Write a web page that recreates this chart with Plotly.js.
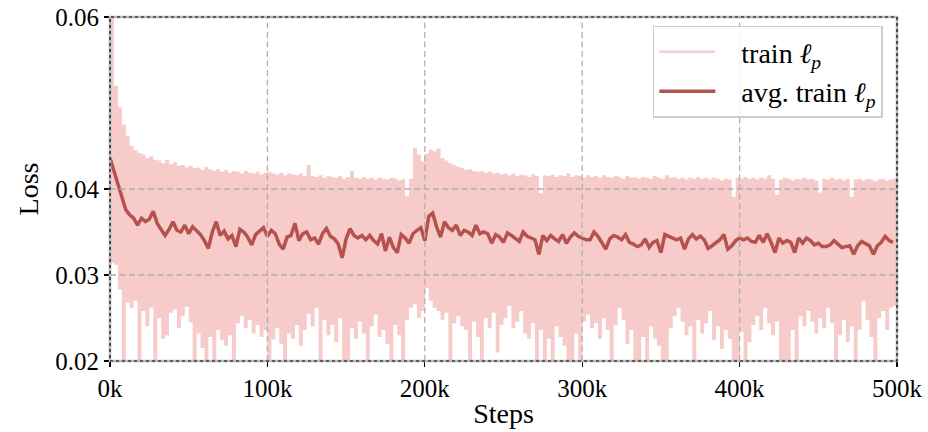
<!DOCTYPE html>
<html>
<head>
<meta charset="utf-8">
<script src="https://cdn.plot.ly/plotly-3.0.1.min.js"></script>
<style>html,body{margin:0;padding:0;background:#fff;}#chart{width:928px;height:432px;}</style>
</head>
<body>
<div id="chart"></div>
<script>
// logging interval between recorded points (steps)
const STEP_INTERVAL = 2500;

// per-window maximum of the raw train loss (upper edge of the noisy band)
const trainUpper = [
0.0600,0.0520,0.0495,0.0475,0.0462,0.0450,0.0445,0.0442,0.0440,0.0436,
0.0438,0.0434,0.0433,0.0430,0.0434,0.0429,0.0431,0.0427,0.0428,0.0425,
0.0427,0.0424,0.0425,0.0422,0.0426,0.0423,0.0421,0.0423,0.0420,0.0422,
0.0419,0.0421,0.0420,0.0418,0.0421,0.0419,0.0418,0.0420,0.0417,0.0419,
0.0420,0.0418,0.0417,0.0419,0.0416,0.0418,0.0417,0.0416,0.0418,0.0415,
0.0428,0.0415,0.0414,0.0416,0.0413,0.0415,0.0414,0.0413,0.0415,0.0412,
0.0414,0.0421,0.0413,0.0412,0.0414,0.0412,0.0413,0.0411,0.0413,0.0412,
0.0411,0.0413,0.0412,0.0410,0.0411,0.0392,0.0412,0.0448,0.0440,0.0432,
0.0441,0.0446,0.0444,0.0447,0.0436,0.0433,0.0430,0.0428,0.0426,0.0424,
0.0422,0.0423,0.0421,0.0420,0.0421,0.0419,0.0420,0.0418,0.0419,0.0417,
0.0418,0.0416,0.0418,0.0415,0.0417,0.0416,0.0414,0.0417,0.0415,0.0395,
0.0416,0.0415,0.0417,0.0414,0.0416,0.0415,0.0418,0.0414,0.0416,0.0415,
0.0413,0.0416,0.0414,0.0415,0.0413,0.0416,0.0414,0.0413,0.0415,0.0414,
0.0412,0.0415,0.0413,0.0414,0.0412,0.0414,0.0413,0.0412,0.0415,0.0413,
0.0412,0.0416,0.0413,0.0414,0.0412,0.0413,0.0411,0.0413,0.0412,0.0414,
0.0412,0.0413,0.0411,0.0413,0.0412,0.0410,0.0412,0.0411,0.0391,0.0413,
0.0412,0.0414,0.0412,0.0413,0.0411,0.0413,0.0412,0.0416,0.0412,0.0393,
0.0411,0.0413,0.0412,0.0410,0.0412,0.0411,0.0413,0.0411,0.0412,0.0410,
0.0396,0.0412,0.0411,0.0413,0.0411,0.0412,0.0410,0.0412,0.0391,0.0411,
0.0412,0.0410,0.0412,0.0411,0.0409,0.0411,0.0412,0.0410,0.0411,0.0412,
0.0411
];

// per-window minimum of the raw train loss (lower edge, spikes run below 0.02)
const trainLower = [
0.0314,0.0312,0.0283,0.0190,0.0268,0.0262,0.0270,0.0190,0.0258,0.0240,
0.0262,0.0190,0.0250,0.0226,0.0230,0.0256,0.0260,0.0238,0.0252,0.0263,
0.0245,0.0190,0.0232,0.0215,0.0190,0.0228,0.0190,0.0236,0.0224,0.0218,
0.0230,0.0190,0.0244,0.0252,0.0238,0.0248,0.0232,0.0242,0.0228,0.0236,
0.0190,0.0225,0.0238,0.0220,0.0190,0.0232,0.0226,0.0242,0.0218,0.0236,
0.0255,0.0240,0.0262,0.0190,0.0248,0.0230,0.0242,0.0222,0.0250,0.0190,
0.0190,0.0238,0.0226,0.0246,0.0232,0.0190,0.0240,0.0254,0.0228,0.0236,
0.0220,0.0190,0.0242,0.0230,0.0190,0.0248,0.0262,0.0266,0.0250,0.0258,
0.0285,0.0270,0.0262,0.0258,0.0248,0.0256,0.0190,0.0244,0.0252,0.0240,
0.0236,0.0190,0.0246,0.0228,0.0190,0.0250,0.0238,0.0256,0.0210,0.0242,
0.0250,0.0264,0.0238,0.0246,0.0258,0.0232,0.0226,0.0244,0.0190,0.0236,
0.0190,0.0226,0.0190,0.0240,0.0228,0.0218,0.0190,0.0190,0.0232,0.0190,
0.0246,0.0254,0.0238,0.0244,0.0226,0.0250,0.0236,0.0190,0.0242,0.0262,
0.0248,0.0220,0.0236,0.0190,0.0190,0.0228,0.0190,0.0240,0.0226,0.0218,
0.0190,0.0190,0.0238,0.0252,0.0262,0.0246,0.0230,0.0240,0.0190,0.0248,
0.0232,0.0244,0.0258,0.0224,0.0240,0.0214,0.0236,0.0226,0.0190,0.0190,
0.0234,0.0190,0.0222,0.0242,0.0252,0.0236,0.0262,0.0244,0.0230,0.0246,
0.0190,0.0190,0.0190,0.0236,0.0190,0.0252,0.0240,0.0258,0.0246,0.0232,
0.0250,0.0238,0.0262,0.0244,0.0190,0.0230,0.0248,0.0222,0.0240,0.0190,
0.0236,0.0270,0.0248,0.0228,0.0190,0.0250,0.0258,0.0236,0.0262,0.0264,
0.0245
];

// running average of the train loss
const trainAvg = [
0.0436,0.0422,0.0407,0.0391,0.0376,0.0370,0.0366,0.0358,0.0366,0.0362,
0.0365,0.0374,0.0360,0.0352,0.0346,0.0353,0.0362,0.0352,0.0350,0.0358,
0.0348,0.0356,0.0351,0.0347,0.0340,0.0331,0.0350,0.0362,0.0346,0.0351,
0.0342,0.0346,0.0333,0.0353,0.0350,0.0344,0.0335,0.0347,0.0351,0.0355,
0.0345,0.0352,0.0348,0.0336,0.0330,0.0344,0.0346,0.0360,0.0340,0.0348,
0.0350,0.0341,0.0343,0.0336,0.0348,0.0354,0.0345,0.0342,0.0336,0.0320,
0.0342,0.0354,0.0346,0.0343,0.0346,0.0341,0.0346,0.0340,0.0336,0.0348,
0.0328,0.0344,0.0332,0.0326,0.0347,0.0343,0.0337,0.0348,0.0352,0.0355,
0.0340,0.0368,0.0372,0.0356,0.0344,0.0362,0.0355,0.0352,0.0358,0.0346,
0.0352,0.0350,0.0346,0.0358,0.0348,0.0350,0.0348,0.0337,0.0347,0.0344,
0.0338,0.0349,0.0346,0.0343,0.0339,0.0350,0.0345,0.0343,0.0341,0.0324,
0.0346,0.0340,0.0346,0.0342,0.0339,0.0347,0.0337,0.0344,0.0349,0.0345,
0.0343,0.0341,0.0341,0.0350,0.0345,0.0338,0.0330,0.0342,0.0346,0.0344,
0.0341,0.0347,0.0338,0.0336,0.0333,0.0335,0.0342,0.0332,0.0338,0.0340,
0.0326,0.0347,0.0345,0.0342,0.0341,0.0343,0.0330,0.0342,0.0347,0.0342,
0.0345,0.0341,0.0331,0.0334,0.0338,0.0341,0.0347,0.0330,0.0334,0.0340,
0.0343,0.0341,0.0343,0.0339,0.0338,0.0346,0.0338,0.0348,0.0338,0.0326,
0.0343,0.0337,0.0340,0.0338,0.0326,0.0343,0.0337,0.0343,0.0340,0.0335,
0.0337,0.0333,0.0333,0.0335,0.0340,0.0336,0.0332,0.0333,0.0334,0.0324,
0.0334,0.0339,0.0337,0.0334,0.0324,0.0334,0.0338,0.0345,0.0340,0.0338
];

const xTickVals = [0, 100000, 200000, 300000, 400000, 500000];
const xTickText = ['0k', '100k', '200k', '300k', '400k', '500k'];
const yTickVals = [0.02, 0.03, 0.04, 0.06];
const yTickText = ['0.02', '0.03', '0.04', '0.06'];

const bandX = trainUpper.map((_, i) => i * STEP_INTERVAL);
const avgX = trainAvg.map((_, i) => i * STEP_INTERVAL);

const PINK = '#f6cbca';
const RED = '#b5524d';
const FONT = '"Liberation Serif", "DejaVu Serif", serif';
const GRID = {color: '#b0b0b0', width: 1.3, dash: '6px,3.5px'};
const GAP = '\u00a0\u00a0\u00a0';

const traces = [
  {x: bandX, y: trainLower, mode: 'lines', line: {width: 0, shape: 'hv', color: PINK},
   showlegend: false, hoverinfo: 'skip'},
  {x: bandX, y: trainUpper, mode: 'lines', line: {width: 0, shape: 'hv', color: PINK},
   fill: 'tonexty', fillcolor: PINK, showlegend: false, hoverinfo: 'skip'},
  {x: [null], y: [null], mode: 'lines', line: {width: 2.5, color: '#f7cfce'},
   name: GAP + 'train <i>ℓ</i><sub><i>p</i></sub>'},
  {x: avgX, y: trainAvg, mode: 'lines', line: {width: 3.5, color: RED},
   name: GAP + 'avg. train <i>ℓ</i><sub><i>p</i></sub>'}
];

// dashed grid drawn above the band, at the inner tick positions
const gridShapes = [];
xTickVals.slice(1, -1).forEach(v => gridShapes.push(
  {type: 'line', xref: 'x', yref: 'paper', x0: v, x1: v, y0: 0, y1: 1, line: GRID, layer: 'above'}));
yTickVals.slice(1, -1).forEach(v => gridShapes.push(
  {type: 'line', xref: 'paper', yref: 'y', x0: 0, x1: 1, y0: v, y1: v, line: GRID, layer: 'above'}));

const layout = {
  width: 928, height: 432,
  margin: {l: 110, r: 31, t: 17, b: 71},
  paper_bgcolor: '#fff', plot_bgcolor: '#fff',
  font: {family: FONT, size: 25, color: '#000'},
  showlegend: true,
  legend: {
    x: 0.982, y: 0.975, xanchor: 'right', yanchor: 'top',
    bgcolor: 'rgba(255,255,255,0.85)', bordercolor: '#cccccc', borderwidth: 1.5,
    font: {family: FONT, size: 28, color: '#000'}, traceorder: 'normal',
    itemwidth: 56
  },
  xaxis: {
    range: [0, 500000], tickmode: 'array', tickvals: xTickVals, ticktext: xTickText,
    showgrid: false, zeroline: false, showline: false,
    ticks: 'outside', ticklen: 5, tickwidth: 1.3, tickcolor: '#000',
    tickfont: {family: FONT, size: 25},
    title: {text: 'Steps', font: {family: FONT, size: 28}, standoff: 2}
  },
  yaxis: {
    range: [0.02, 0.06], tickmode: 'array', tickvals: yTickVals, ticktext: yTickText,
    showgrid: false, zeroline: false, showline: false,
    ticks: 'outside', ticklen: 5, tickwidth: 1.3, tickcolor: '#000',
    tickfont: {family: FONT, size: 25},
    title: {text: 'Loss', font: {family: FONT, size: 28}, standoff: 8}
  },
  shapes: gridShapes.concat([
    {type: 'rect', xref: 'paper', yref: 'paper', x0: 0, x1: 1, y0: 0, y1: 1,
     line: {color: '#b8b8b8', width: 2.5}, layer: 'above'},
    {type: 'rect', xref: 'paper', yref: 'paper', x0: 0, x1: 1, y0: 0, y1: 1,
     line: {color: '#000', width: 1.2, dash: 'dot'}, layer: 'above'}
  ])
};

Plotly.newPlot('chart', traces, layout, {displayModeBar: false, staticPlot: true});
</script>
</body>
</html>
